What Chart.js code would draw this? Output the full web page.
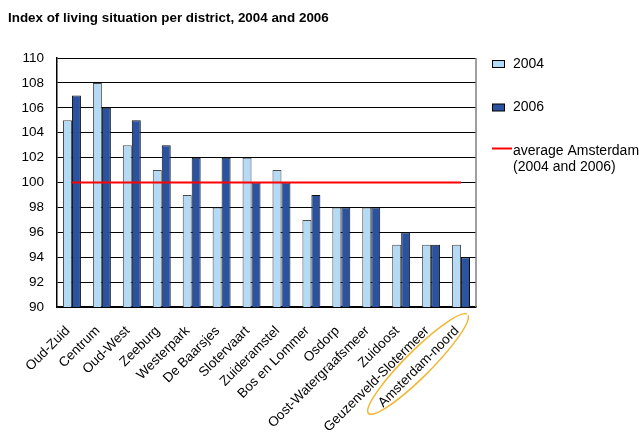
<!DOCTYPE html>
<html>
<head>
<meta charset="utf-8">
<script src="https://cdn.jsdelivr.net/npm/chart.js@4/dist/chart.umd.min.js"></script>
<style>
  html, body { margin: 0; padding: 0; background: #fff; }
  #wrap { width: 639px; height: 432px; }
</style>
</head>
<body>
<div id="wrap"><canvas id="districts"></canvas></div>
<script>
const districts = [
  "Oud-Zuid", "Centrum", "Oud-West", "Zeeburg", "Westerpark", "De Baarsjes",
  "Slotervaart", "Zuideramstel", "Bos en Lommer", "Osdorp",
  "Oost-Watergraafsmeer", "Zuidoost", "Geuzenveld-Slotermeer", "Amsterdam-noord"
];
const index2004 = [105, 108, 103, 101, 99, 98, 102, 101, 97, 98, 98, 95, 95, 95];
const index2006 = [107, 106, 105, 103, 102, 102, 100, 100, 99, 98, 98, 96, 95, 94];
const averageAmsterdam = [100, 100, 100, 100, 100, 100, 100, 100, 100, 100, 100, 100, 100, 100];
const yTicks = [90, 92, 94, 96, 98, 100, 102, 104, 106, 108, 110];

const FONT = "'Liberation Sans', Arial, sans-serif";

// frame on the right + hand-drawn ring around the last label + legend
const extras = {
  id: "extras",
  afterDraw(chart) {
    const ctx = chart.ctx;
    const a = chart.chartArea;
    const x = chart.scales.x;
    ctx.save();
    ctx.strokeStyle = "#808080";
    ctx.lineWidth = 1.5;
    ctx.beginPath();
    ctx.moveTo(a.right, a.top);
    ctx.lineTo(a.right, a.bottom);
    ctx.stroke();

    // ring around Amsterdam-noord
    const lx = x.getPixelForValue(districts.length - 1);
    ctx.strokeStyle = "#F2B630";
    ctx.lineWidth = 1.5;
    ctx.beginPath();
    ctx.ellipse(lx - 43, a.bottom + 57, 70, 13, -45 * Math.PI / 180, 0.08, Math.PI * 2 - 0.05);
    ctx.stroke();

    // legend
    ctx.font = "14px " + FONT;
    ctx.textBaseline = "middle";
    ctx.textAlign = "left";
    const lg = [
      { y: 64, color: "#B4DAF5", text: "2004" },
      { y: 107.5, color: "#2A529F", text: "2006" }
    ];
    lg.forEach(function (l) {
      ctx.fillStyle = l.color;
      ctx.fillRect(492.5, l.y - 3.5, 12, 7);
      ctx.strokeStyle = "#000";
      ctx.lineWidth = 1;
      ctx.strokeRect(492.5, l.y - 3.5, 12, 7);
      ctx.fillStyle = "#000";
      ctx.fillText(l.text, 513, l.y);
    });
    ctx.strokeStyle = "#FF0000";
    ctx.lineWidth = 2;
    ctx.beginPath();
    ctx.moveTo(492, 148.5);
    ctx.lineTo(512, 148.5);
    ctx.stroke();
    ctx.fillText("average Amsterdam", 513, 151);
    ctx.fillText("(2004 and 2006)", 513, 167.5);
    ctx.restore();
  }
};

new Chart(document.getElementById("districts"), {
  data: {
    labels: districts,
    datasets: [
      {
        type: "line",
        label: "average Amsterdam (2004 and 2006)",
        data: averageAmsterdam,
        borderColor: "#FF0000",
        borderWidth: 2,
        pointRadius: 0,
        order: 0
      },
      {
        type: "bar",
        label: "2004",
        data: index2004,
        backgroundColor: "#B4DAF5",
        borderColor: "#4A4A4A",
        borderWidth: 1,
        order: 1
      },
      {
        type: "bar",
        label: "2006",
        data: index2006,
        backgroundColor: "#2A529F",
        borderColor: "#111111",
        borderWidth: 1,
        order: 1
      }
    ]
  },
  options: {
    responsive: true,
    maintainAspectRatio: false,
    animation: false,
    layout: { padding: { left: 8, right: 163, top: 0, bottom: 0 } },
    datasets: { bar: { barPercentage: 1, categoryPercentage: 0.6 } },
    plugins: {
      legend: { display: false },
      tooltip: { enabled: false },
      title: {
        display: true,
        text: "Index of living situation per district, 2004 and 2006",
        align: "start",
        color: "#000",
        font: { family: FONT, size: 13.4, weight: "bold" },
        padding: { top: 10, bottom: 32 }
      }
    },
    scales: {
      x: {
        grid: { display: false },
        border: { color: "#000", width: 1.5 },
        afterFit(scale) { scale.height = 125; },
        ticks: {
          color: "#000",
          font: { family: FONT, size: 13.5 },
          maxRotation: 45,
          minRotation: 45,
          autoSkip: false,
          labelOffset: -4,
          padding: 8
        }
      },
      y: {
        min: 90,
        max: 110,
        afterBuildTicks(axis) { axis.ticks = yTicks.map(v => ({ value: v })); },
        afterFit(scale) { scale.width = 49; },
        grid: { color: "#000", lineWidth: 1, drawTicks: false },
        border: { color: "#000", width: 1.5 },
        ticks: {
          color: "#000",
          font: { family: FONT, size: 13.5 },
          padding: 13
        }
      }
    }
  },
  plugins: [extras]
});
</script>
</body>
</html>
